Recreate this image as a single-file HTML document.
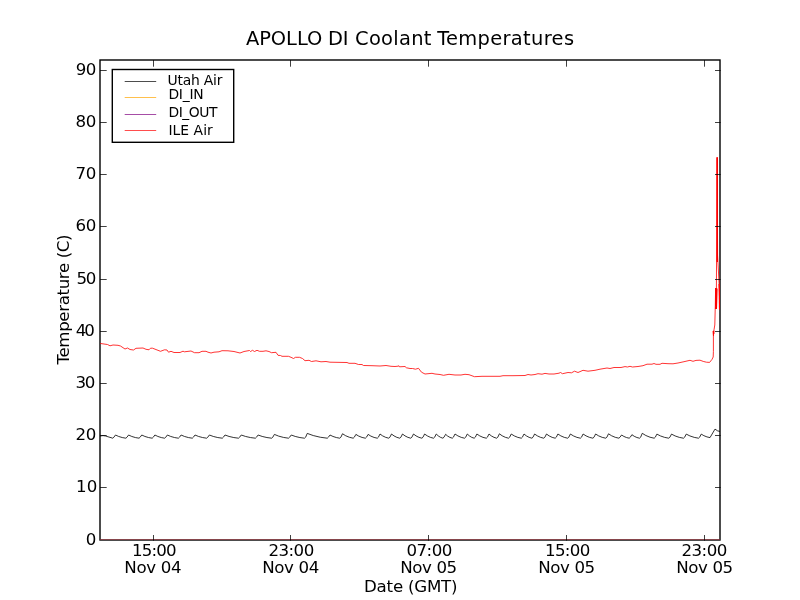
<!DOCTYPE html>
<html><head><meta charset="utf-8"><title>APOLLO DI Coolant Temperatures</title>
<style>html,body{margin:0;padding:0;background:#fff;width:800px;height:600px;overflow:hidden}</style>
</head><body>
<svg width="800" height="600" viewBox="0 0 800 600" style="position:absolute;left:0;top:0">
<rect x="0" y="0" width="800" height="600" fill="#fff"/>
<rect x="100" y="60" width="620" height="480" fill="none" stroke="#000" stroke-width="1.4"/>
<defs><clipPath id="c"><rect x="100" y="60" width="620" height="480"/></clipPath></defs>
<g clip-path="url(#c)" fill="none" stroke-linejoin="round">
<path d="M100.00 436.00 L103.00 435.60 L105.50 436.00 L112.80 438.20 L113.90 437.20 L115.50 435.00 L118.62 436.44 L122.26 437.56 L125.90 438.20 L127.00 437.20 L128.60 435.00 L131.74 436.44 L135.39 437.56 L139.05 438.20 L140.15 437.20 L141.75 435.00 L144.88 436.44 L148.54 437.56 L152.20 438.20 L153.30 437.20 L154.90 435.00 L157.84 436.44 L161.27 437.56 L164.70 438.20 L165.80 437.20 L167.40 435.00 L170.70 436.44 L174.55 437.56 L178.40 438.20 L179.50 437.20 L181.10 435.00 L184.46 436.44 L188.38 437.56 L192.30 438.20 L193.40 437.20 L195.00 435.00 L198.51 436.44 L202.61 437.56 L206.70 438.20 L207.80 437.20 L209.40 435.00 L213.27 436.44 L217.78 437.56 L222.30 438.20 L223.40 437.20 L225.00 435.00 L229.06 436.44 L233.81 437.56 L238.55 438.20 L239.65 437.20 L241.25 435.00 L245.50 436.44 L250.45 437.56 L255.40 438.20 L256.50 437.20 L258.10 435.00 L262.18 436.44 L266.94 437.56 L271.70 438.20 L272.80 437.20 L274.40 434.40 L278.64 436.11 L283.60 437.44 L288.55 438.20 L289.65 437.20 L291.25 435.00 L295.24 436.44 L299.89 437.56 L304.55 438.20 L305.65 437.20 L307.25 433.40 L313.26 435.56 L320.28 437.24 L327.30 438.20 L328.40 437.20 L330.00 435.00 L332.94 436.44 L336.37 437.56 L339.80 438.20 L340.90 437.20 L342.50 433.75 L345.71 435.75 L349.45 437.31 L353.20 438.20 L354.30 437.20 L355.90 434.40 L358.75 436.11 L362.07 437.44 L365.40 438.20 L366.50 437.20 L368.10 434.40 L370.86 436.11 L374.08 437.44 L377.30 438.20 L378.40 437.20 L380.00 434.00 L382.64 435.89 L385.72 437.36 L388.80 438.20 L389.90 437.20 L391.50 434.00 L393.99 435.89 L396.89 437.36 L399.80 438.20 L400.90 437.20 L402.50 434.00 L404.99 435.89 L407.89 437.36 L410.80 438.20 L411.90 437.20 L413.50 434.00 L416.02 435.89 L418.96 437.36 L421.90 438.20 L423.00 437.20 L424.60 434.00 L427.29 435.89 L430.42 437.36 L433.55 438.20 L434.65 437.20 L436.25 434.00 L438.25 435.89 L440.57 437.36 L442.90 438.20 L444.00 437.20 L445.60 434.30 L447.61 436.06 L449.96 437.42 L452.30 438.20 L453.40 437.20 L455.00 434.00 L457.88 435.89 L461.24 437.36 L464.60 438.20 L465.70 437.20 L467.30 434.00 L469.37 435.89 L471.78 437.36 L474.20 438.20 L475.30 437.20 L476.90 434.00 L479.72 435.89 L483.01 437.36 L486.30 438.20 L487.40 437.20 L489.00 434.00 L491.31 435.89 L494.00 437.36 L496.70 438.20 L497.80 437.20 L499.40 433.80 L502.14 435.78 L505.35 437.32 L508.55 438.20 L509.65 437.20 L511.25 434.00 L514.26 435.89 L517.78 437.36 L521.30 438.20 L522.40 437.20 L524.00 434.00 L526.37 435.89 L529.13 437.36 L531.90 438.20 L533.00 437.20 L534.60 434.00 L537.36 435.89 L540.58 437.36 L543.80 438.20 L544.90 437.20 L546.50 434.00 L549.11 435.89 L552.15 437.36 L555.20 438.20 L556.30 437.20 L557.90 434.00 L560.84 435.89 L564.27 437.36 L567.70 438.20 L568.80 437.20 L570.40 434.00 L573.40 435.89 L576.90 437.36 L580.40 438.20 L581.50 437.20 L583.10 434.00 L586.04 435.89 L589.47 437.36 L592.90 438.20 L594.00 437.20 L595.60 434.00 L598.66 435.89 L602.23 437.36 L605.80 438.20 L606.90 437.20 L608.50 433.80 L611.62 435.78 L615.26 437.32 L618.90 438.20 L620.00 437.20 L621.60 435.00 L623.88 436.44 L626.54 437.56 L629.20 438.20 L630.30 437.20 L631.90 434.70 L634.19 436.27 L636.87 437.50 L639.55 438.20 L640.65 437.20 L642.25 433.30 L645.84 435.50 L650.02 437.22 L654.20 438.20 L655.30 437.20 L656.90 434.10 L660.47 435.94 L664.63 437.38 L668.80 438.20 L669.90 437.20 L671.50 434.10 L675.12 435.94 L679.33 437.38 L683.55 438.20 L684.65 437.20 L686.25 434.10 L689.94 435.94 L694.25 437.38 L698.55 438.20 L699.65 437.20 L701.25 434.10 L703.88 435.68 L706.94 436.90 L710.00 437.60 L715.00 429.10 L717.50 430.80 L720.00 431.50" stroke="#000" stroke-width="0.8"/>
<path d="M100 540 L720 540" stroke="#ffa500" stroke-width="0.7"/>
<path d="M100 540 L720 540" stroke="#800080" stroke-width="0.7"/>
<path d="M100.00 343.50 L100.50 343.50 L104.00 344.00 L107.50 344.50 L110.00 345.80 L113.00 345.00 L118.00 345.30 L120.50 346.00 L125.00 349.00 L127.50 348.00 L130.00 349.50 L133.50 350.00 L136.00 348.30 L143.00 348.00 L146.00 349.30 L149.00 349.80 L150.50 348.20 L152.50 348.20 L160.50 351.30 L164.50 349.80 L167.00 350.00 L168.50 352.20 L171.00 351.30 L174.00 352.50 L180.00 352.50 L183.00 351.20 L184.50 351.80 L191.00 351.00 L194.50 352.70 L199.00 352.70 L202.00 351.30 L206.00 351.30 L208.00 352.20 L211.00 353.00 L214.00 352.20 L219.00 351.80 L222.00 350.70 L228.00 350.80 L234.00 351.50 L240.00 353.00 L244.00 351.50 L249.50 350.50 L250.50 351.50 L252.50 350.30 L254.50 351.50 L257.00 350.30 L259.50 351.30 L263.00 351.30 L266.00 350.80 L269.00 351.50 L271.50 352.70 L276.00 352.30 L278.00 355.30 L280.50 355.50 L282.00 356.30 L288.50 356.30 L291.00 357.30 L293.50 358.50 L295.50 357.30 L299.50 357.30 L302.50 358.50 L305.00 360.70 L309.00 360.30 L311.50 361.50 L316.00 360.80 L321.00 361.80 L326.00 361.50 L330.00 362.20 L347.00 362.50 L349.00 363.30 L355.00 363.30 L358.50 364.50 L362.00 364.50 L363.50 365.50 L372.00 365.70 L380.00 366.00 L386.00 365.50 L391.00 366.30 L395.00 366.50 L398.00 366.20 L399.00 365.80 L399.50 366.80 L405.00 366.50 L406.50 367.80 L410.00 368.50 L412.50 368.50 L415.50 369.20 L418.50 368.30 L421.50 372.20 L425.00 374.00 L432.00 373.30 L435.00 374.00 L440.00 374.50 L443.50 375.30 L449.00 374.30 L455.00 375.00 L461.00 375.00 L465.00 374.30 L469.00 374.70 L474.50 376.70 L482.00 376.30 L500.00 376.30 L503.00 375.70 L513.00 375.70 L525.00 375.50 L528.00 374.50 L531.00 375.00 L535.00 374.50 L538.00 373.70 L542.00 374.20 L545.00 373.40 L549.00 374.00 L554.00 374.00 L559.00 373.20 L560.50 372.50 L562.50 373.70 L568.00 372.50 L571.50 372.80 L574.50 371.20 L578.00 372.50 L583.00 370.30 L588.00 371.20 L595.00 370.30 L600.00 369.20 L607.00 368.00 L610.00 368.50 L614.00 367.50 L621.00 367.50 L625.00 366.60 L627.50 367.00 L630.00 366.30 L632.50 367.00 L638.00 366.50 L643.00 365.70 L647.00 364.20 L652.00 364.20 L654.00 363.50 L656.00 364.30 L660.00 364.30 L662.00 363.30 L668.00 363.70 L673.00 363.80 L678.00 363.00 L684.00 361.70 L690.00 360.30 L693.00 361.30 L696.00 360.40 L700.00 360.20 L703.20 361.40 L706.40 362.20 L709.60 362.40 L712.00 359.40 L713.20 357.00 L713.40 351.40 L713.40 336.00 L713.20 331.00 L713.50 335.80 L713.60 330.80 L713.80 334.00 L714.00 329.80 L714.80 325.00 L715.30 305.50 L715.60 288.00 L715.90 306.00 L716.10 288.00 L716.30 306.00 L717.10 157.50 L717.60 255.00 L719.40 289.80 L719.70 309.60" stroke="#f00" stroke-width="0.8"/>
<path d="M717.25 157.3L717.25 262" stroke="#f00" stroke-width="1.5"/>
<path d="M716.6 288.5L716.3 300L716 309" stroke="#f00" stroke-width="2"/>
<path d="M719.2 284L719.6 309.6" stroke="#f00" stroke-width="1.3"/>
</g>
<path d="M100 487.50H106.7M720.7 487.50H715M100 435.50H106.7M720.7 435.50H715M100 383.50H106.7M720.7 383.50H715M100 331.50H106.7M720.7 331.50H715M100 279.50H106.7M720.7 279.50H715M100 226.50H106.7M720.7 226.50H715M100 174.50H106.7M720.7 174.50H715M100 122.50H106.7M720.7 122.50H715M100 70.50H106.7M720.7 70.50H715M153.50 540.7V535M153.50 60V66.7M290.50 540.7V535M290.50 60V66.7M428.50 540.7V535M428.50 60V66.7M566.50 540.7V535M566.50 60V66.7M704.50 540.7V535M704.50 60V66.7" stroke="#000" stroke-width="0.75" fill="none"/>
<rect x="112.3" y="69.5" width="121.4" height="72.8" fill="#fff" stroke="#000" stroke-width="1.4"/>
<path d="M124.7 81.5H156.2" stroke="#000" stroke-width="0.7"/>
<path d="M124.7 97.5H156.2" stroke="#ffa500" stroke-width="0.7"/>
<path d="M124.7 114.5H156.2" stroke="#800080" stroke-width="0.7"/>
<path d="M124.7 130.5H156.2" stroke="#f00" stroke-width="0.7"/>
<text y="45" font-size="19.44" font-family="DejaVu Sans, Liberation Sans, sans-serif"><tspan x="245.98" letter-spacing="-0.059">APOLLO</tspan> <tspan x="327.98" letter-spacing="-0.098">DI</tspan> <tspan x="355.0" letter-spacing="0.307">Coolant</tspan> <tspan x="437.13" letter-spacing="0.33">Temperatures</tspan></text>
<text x="85.8" y="545" font-size="16.67" font-family="DejaVu Sans, Liberation Sans, sans-serif">0</text>
<text x="76.0" y="492" font-size="16.67" letter-spacing="0.22" font-family="DejaVu Sans, Liberation Sans, sans-serif">10</text>
<text x="75.59" y="440" font-size="16.67" letter-spacing="-0.369" font-family="DejaVu Sans, Liberation Sans, sans-serif">20</text>
<text x="75.45" y="388" font-size="16.67" letter-spacing="-1.235" font-family="DejaVu Sans, Liberation Sans, sans-serif">30</text>
<text x="75.75" y="336" font-size="16.67" letter-spacing="-2.18" font-family="DejaVu Sans, Liberation Sans, sans-serif">40</text>
<text x="76.47" y="284" font-size="16.67" letter-spacing="-1.266" font-family="DejaVu Sans, Liberation Sans, sans-serif">50</text>
<text x="75.61" y="231" font-size="16.67" letter-spacing="-0.392" font-family="DejaVu Sans, Liberation Sans, sans-serif">60</text>
<text x="75.6" y="179" font-size="16.67" letter-spacing="-0.411" font-family="DejaVu Sans, Liberation Sans, sans-serif">70</text>
<text x="75.49" y="127" font-size="16.67" letter-spacing="-0.275" font-family="DejaVu Sans, Liberation Sans, sans-serif">80</text>
<text x="75.87" y="75" font-size="16.67" letter-spacing="-0.802" font-family="DejaVu Sans, Liberation Sans, sans-serif">90</text>
<text x="131.95" y="556" font-size="16.67" letter-spacing="-0.85" font-family="DejaVu Sans, Liberation Sans, sans-serif">15:00</text>
<text x="124.3" y="573" font-size="16.67" letter-spacing="-0.34" font-family="DejaVu Sans, Liberation Sans, sans-serif">Nov 04</text>
<text x="268.39" y="556" font-size="16.67" letter-spacing="-0.522" font-family="DejaVu Sans, Liberation Sans, sans-serif">23:00</text>
<text x="262.26" y="573" font-size="16.67" letter-spacing="-0.393" font-family="DejaVu Sans, Liberation Sans, sans-serif">Nov 04</text>
<text x="406.55" y="556" font-size="16.67" letter-spacing="-0.56" font-family="DejaVu Sans, Liberation Sans, sans-serif">07:00</text>
<text x="400.26" y="573" font-size="16.67" letter-spacing="-0.411" font-family="DejaVu Sans, Liberation Sans, sans-serif">Nov 05</text>
<text x="545.0" y="556" font-size="16.67" letter-spacing="-0.662" font-family="DejaVu Sans, Liberation Sans, sans-serif">15:00</text>
<text x="538.26" y="573" font-size="16.67" letter-spacing="-0.411" font-family="DejaVu Sans, Liberation Sans, sans-serif">Nov 05</text>
<text x="681.39" y="556" font-size="16.67" letter-spacing="-0.492" font-family="DejaVu Sans, Liberation Sans, sans-serif">23:00</text>
<text x="676.26" y="573" font-size="16.67" letter-spacing="-0.411" font-family="DejaVu Sans, Liberation Sans, sans-serif">Nov 05</text>
<text x="364.0" y="592" font-size="16.67" letter-spacing="-0.226" font-family="DejaVu Sans, Liberation Sans, sans-serif">Date (GMT)</text>
<text transform="translate(69,364.45) rotate(-90)" font-size="16.67" letter-spacing="-0.392" font-family="DejaVu Sans, Liberation Sans, sans-serif">Temperature (C)</text>
<text x="167.59" y="85" font-size="13.89" letter-spacing="-0.22" font-family="DejaVu Sans, Liberation Sans, sans-serif">Utah Air</text>
<text x="168.39" y="99" font-size="13.89" letter-spacing="-0.205" font-family="DejaVu Sans, Liberation Sans, sans-serif">DI_IN</text>
<text x="168.39" y="117" font-size="13.89" letter-spacing="-0.428" font-family="DejaVu Sans, Liberation Sans, sans-serif">DI_OUT</text>
<text x="168.39" y="135" font-size="13.89" letter-spacing="0.06" font-family="DejaVu Sans, Liberation Sans, sans-serif">ILE Air</text>
</svg>
</body></html>
